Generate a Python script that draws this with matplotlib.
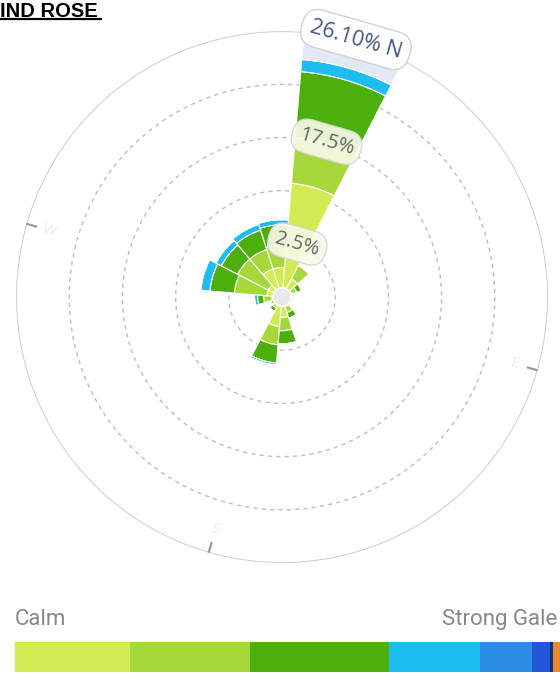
import numpy as np
import matplotlib
matplotlib.use("Agg")
import matplotlib.pyplot as plt

# wind rose data (percent of time), 16 directions, per speed class
directions = ['N', 'NNE', 'NE', 'ENE', 'E', 'ESE', 'SE', 'SSE',
              'S', 'SSW', 'SW', 'WSW', 'W', 'WNW', 'NW', 'NNW']
calm_light = [11.2, 2.0, 1.0, 0.8, 0.6, 0.7, 1.0, 2.0, 2.9, 0.8, 0.8, 1.0, 1.5, 1.5, 2.9, 2.9]
light_breeze = [4.5, 1.5, 0.5, 0.3, 0.3, 0.3, 0.6, 1.3, 1.8, 0.4, 0.4, 0.8, 3.2, 3.4, 2.0, 2.2]
moderate = [6.5, 0.0, 0.5, 0.0, 0.0, 0.0, 0.6, 1.3, 1.8, 0.4, 0.0, 0.6, 2.4, 1.8, 2.0, 2.0]
fresh = [1.2, 0.0, 0.0, 0.0, 0.0, 0.0, 0.0, 0.0, 0.2, 0.0, 0.0, 0.3, 0.9, 0.6, 0.6, 0.5]
highlight = [2.7, 0, 0, 0, 0, 0, 0, 0, 0, 0, 0, 0, 0, 0, 0, 0]
max_pct = 26.1
ring_labels = {1: '2.5%', 3: '17.5%'}

# legend scale
legend_names = ['Calm', 'Strong Gale']
legend_widths = [115, 120, 139, 91, 52, 18, 3, 7]
legend_colors = ['#d3eb52', '#a6d73b', '#4daf0b', '#1dbdf0', '#2a8ee4',
                 '#2456d8', '#1b2f78', '#e8892e']
series_colors = legend_colors[:4] + ['#e2e8f6']

fig = plt.figure(figsize=(5.6, 6.75), dpi=100)

ax = fig.add_axes([0.0286, 0.1659, 0.95, 0.788], projection='polar')
ax.set_theta_direction(-1)
ax.set_theta_zero_location('N', offset=-16)
ax.set_ylim(0, max_pct)
ax.grid(False)
ax.set_xticks([])
ax.set_yticks([])
ax.spines['polar'].set_visible(False)
ax.patch.set_alpha(0)

theta = np.deg2rad(np.arange(len(directions)) * 22.5)
width = np.deg2rad(22.5)
bottom = np.zeros(len(directions))
for vals, col in zip([calm_light, light_breeze, moderate, fresh, highlight], series_colors):
    vals = np.array(vals)
    ax.bar(theta, vals, width=width, bottom=bottom, color=col,
           edgecolor='white', linewidth=0.8, zorder=3)
    bottom += vals

# rings
t = np.linspace(0, 2 * np.pi, 400)
for k in range(1, 5):
    ax.plot(t, np.full_like(t, max_pct * k / 5), color='#bdbdbd',
            lw=1.0, ls=(0, (3, 3)), zorder=1)
ax.plot(t, np.full_like(t, max_pct), color='#cccccc', lw=1.4, zorder=1)

# compass ticks
for ang, lab in zip([0, 90, 180, 270], ['N', 'E', 'S', 'W']):
    a = np.deg2rad(ang)
    ax.plot([a, a], [max_pct * 0.962, max_pct], color='#9a9a9a', lw=1.6, zorder=2)
    if lab != 'N':
        ax.text(a, max_pct * 0.91, lab, color='#ededed', fontsize=10,
                ha='center', va='center', rotation=-16, zorder=2)

# calm disc
ax.fill_between(t, 0, 0.9, color='#e9e9e9', zorder=5)
ax.plot(t, np.full_like(t, 0.9), color='white', lw=1.2, zorder=5)

# ring labels on the N axis
for k, lab in ring_labels.items():
    ax.text(0, max_pct * k / 5 + 0.2, lab, fontsize=14.5, color='#666666',
            family='Open Sans', ha='center', va='center', rotation=-16,
            rotation_mode='anchor', zorder=6,
            bbox=dict(boxstyle='round,pad=0.35,rounding_size=0.8',
                      fc='#f6fae6', ec='#d6d6d6', lw=1, alpha=0.92))
ax.text(0, max_pct + 0.2, f'{max_pct:.2f}% N', fontsize=15.5, color='#44577f',
        family='Open Sans', ha='center', va='center', rotation=-16,
        rotation_mode='anchor', zorder=6,
        bbox=dict(boxstyle='round,pad=0.4,rounding_size=0.8',
                  fc='white', ec='#d0d0d0', lw=1, alpha=0.95))

# title (cropped at the left edge in the original)
fig.text(0.0, 1 - 2 / 675, 'IND ROSE', fontsize=14.5, fontweight='bold',
         family='Liberation Sans', va='top', ha='left', color='black')
fig.add_artist(plt.Line2D([0, 101 / 560], [1 - 19 / 675, 1 - 19 / 675],
                          color='black', lw=1.6))

# legend bar
lax = fig.add_axes([15 / 560, 1 - 672 / 675, 545 / 560, 30 / 675])
left = 0
for w, col in zip(legend_widths, legend_colors):
    lax.barh(0, w, left=left, height=1, color=col, edgecolor='none')
    left += w
lax.set_xlim(0, sum(legend_widths))
lax.set_ylim(-0.5, 0.5)
lax.axis('off')

fig.text(15 / 560, 1 - 625 / 675, legend_names[0], fontsize=16, color='#888888',
         family='Roboto', ha='left', va='baseline')
fig.text(557 / 560, 1 - 625 / 675, legend_names[1], fontsize=16, color='#888888',
         family='Roboto', ha='right', va='baseline')

fig.savefig('out.png', dpi=100)
